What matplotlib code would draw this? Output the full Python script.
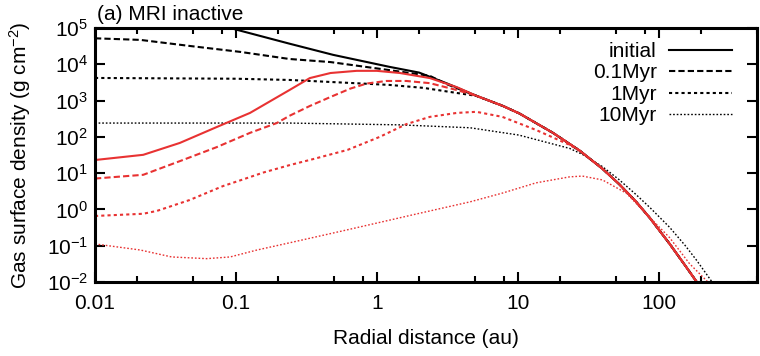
import numpy as np
import matplotlib
matplotlib.use('Agg')
import matplotlib.pyplot as plt
from matplotlib.ticker import FixedLocator, NullLocator, NullFormatter

plt.rcParams['font.family'] = ['Liberation Sans', 'DejaVu Sans']
plt.rcParams['mathtext.fontset'] = 'custom'
plt.rcParams['mathtext.rm'] = 'Liberation Sans'
plt.rcParams['mathtext.default'] = 'regular'

# shared outer tail (all curves fall onto the same cutoff)
r_tail   = [5.1, 7.8, 10.3, 17.8, 27.5, 40, 52.5, 69, 87, 120, 155, 195]
sig_tail = [1350, 720, 440, 129, 42, 13.2, 5.0, 1.66, 0.575, 0.112, 0.028, 0.0079]

# black curves
r_init   = [0.01, 0.091, 0.24, 0.49, 1.23, 2.0, 3.16] + r_tail
sig_init = [8.5e5, 1.0e5, 3.7e4, 1.82e4, 8.5e3, 5.9e3, 2.95e3] + sig_tail

r_k01    = [0.01, 0.021, 0.047, 0.107, 0.24, 0.47, 1.23, 2.38, 3.16] + r_tail
sig_k01  = [5.2e4, 4.7e4, 3.2e4, 2.2e4, 1.4e4, 1.15e4, 6.9e3, 4.8e3, 2.8e3] + sig_tail

r_k1     = [0.01, 0.1, 0.24, 0.72, 1.23, 2.14, 3.7] + r_tail
sig_k1   = [4.2e3, 4.0e3, 3.7e3, 3.0e3, 2.7e3, 2.24e3, 1.62e3] + sig_tail

r_k10    = [0.01, 0.24, 1.46, 4.6, 10.2, 23.4, 28.8, 40, 52.5, 69, 87, 120, 155, 186, 240, 251]
sig_k10  = [240, 240, 214, 178, 112, 48, 33, 15.1, 6.6, 2.6, 1.12, 0.32, 0.1, 0.04, 0.01, 0.007]

# red curves
r_r0     = [0.01, 0.022, 0.04, 0.073, 0.126, 0.24, 0.335, 0.47, 0.72, 1.0, 1.46, 2.38, 3.7] + r_tail
sig_r0   = [23, 32, 68, 186, 457, 1950, 4170, 5750, 6600, 6600, 5750, 4170, 2340] + sig_tail

r_r01    = [0.01, 0.022, 0.042, 0.073, 0.126, 0.195, 0.24, 0.335, 0.47, 0.65, 0.85, 1.17, 1.62, 2.38, 3.7] + r_tail
sig_r01  = [7.1, 9.0, 23, 52, 129, 240, 380, 710, 1260, 2140, 2950, 3470, 3470, 3020, 1950] + sig_tail

r_r1     = [0.01, 0.022, 0.0275, 0.047, 0.081, 0.107, 0.158, 0.24, 0.355, 0.62, 1.05, 1.62, 2.38,
            3.7, 5.1, 7.8, 13.5, 23.4] + r_tail[4:]
sig_r1   = [0.66, 0.76, 0.91, 1.82, 4.4, 6.3, 10.5, 16.6, 24.5, 43.7, 100, 224, 355,
            457, 490, 355, 155, 60] + sig_tail[4:]

r_r10    = [0.01, 0.021, 0.035, 0.062, 0.091, 0.141, 0.24, 0.62, 1.8, 4.6, 7.8, 13.5, 23.4, 28.8,
            40, 59, 81, 120, 166, 224, 234]
sig_r10  = [0.112, 0.076, 0.049, 0.044, 0.049, 0.076, 0.12, 0.275, 0.71, 1.62, 2.82, 5.4, 7.9, 8.3,
            6.5, 2.82, 0.79, 0.166, 0.032, 0.01, 0.0076]

labels = ['initial', '0.1Myr', '1Myr', '10Myr']
xticks = [0.01, 0.1, 1, 10, 100]
xtick_labels = ['0.01', '0.1', '1', '10', '100']
yticks = [1e-2, 1e-1, 1e0, 1e1, 1e2, 1e3, 1e4, 1e5]

red = '#e83232'
fs = 15

fig = plt.figure(figsize=(7.6, 3.56), dpi=100)
ax = fig.add_axes([95/760, 1 - 282/356, 662/760, 254/356])

# solid, dashed, short dash, fine dots
styles = [dict(ls='-', lw=1.5),
          dict(lw=1.5, dashes=(3, 1.5)),
          dict(lw=1.5, dashes=(1.5, 1.5)),
          dict(lw=1.0, dashes=(1.2, 1.4))]

black_runs = [(r_init, sig_init), (r_k01, sig_k01), (r_k1, sig_k1), (r_k10, sig_k10)]
red_runs = [(r_r0, sig_r0), (r_r01, sig_r01), (r_r1, sig_r1), (r_r10, sig_r10)]

for i, ((r, s), st) in enumerate(zip(black_runs, styles)):
    ax.plot(r, s, color='black', label=labels[i], **st)
for (r, s), st in zip(red_runs, styles):
    ax.plot(r, s, color=red, **st)

ax.set_xscale('log')
ax.set_yscale('log')
ax.set_xlim(0.01, 500)
ax.set_ylim(1e-2, 1e5)

ax.xaxis.set_major_locator(FixedLocator(xticks))
ax.set_xticklabels(xtick_labels)
subs = []
for d in [0.01, 0.1, 1, 10, 100]:
    subs += [2 * d, 5 * d, 8 * d]
ax.xaxis.set_minor_locator(FixedLocator(subs))
ax.xaxis.set_minor_formatter(NullFormatter())
ax.yaxis.set_major_locator(FixedLocator(yticks))
ax.yaxis.set_minor_locator(NullLocator())

ax.tick_params(which='both', direction='in', top=True, right=True, width=1.5, labelsize=fs)
ax.tick_params(which='major', length=7)
ax.tick_params(which='minor', length=4)
ax.tick_params(axis='x', pad=8.5)
ax.tick_params(axis='y', pad=5)
for sp in ax.spines.values():
    sp.set_linewidth(2.2)

ax.set_xlabel('Radial distance (au)', fontsize=fs, labelpad=12)
ax.set_ylabel('Gas surface density (g cm$^{-2}$)', fontsize=fs)
ax.yaxis.set_label_coords(-0.093, 0.5)
ax.text(0.003, 1.031, '(a) MRI inactive', transform=ax.transAxes, fontsize=fs,
        ha='left', va='baseline')

ax.legend(loc='upper right', bbox_to_anchor=(0.962, 0.945), frameon=False, fontsize=fs,
          markerfirst=False, handlelength=3.0, handletextpad=0.6, labelspacing=0.12,
          borderpad=0, borderaxespad=0)

fig.savefig('out.png', dpi=100)
